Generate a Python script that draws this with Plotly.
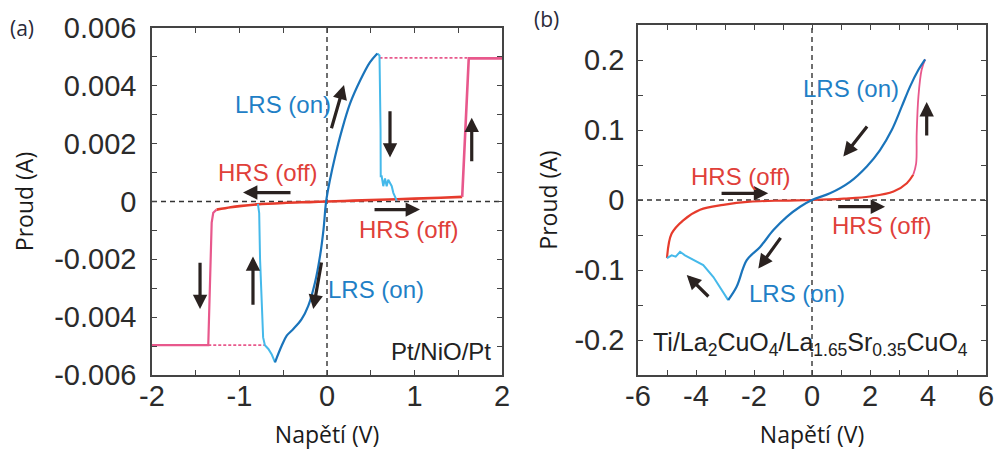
import plotly.graph_objects as go

# ---------------- Panel (a): Pt/NiO/Pt ----------------
A_LRS_V = [-0.594, -0.518, -0.46, -0.385, -0.29, -0.213, -0.137, -0.08, -0.04, -0.01,
           0.034, 0.092, 0.17, 0.264, 0.38, 0.49, 0.575]
A_LRS_I = [-0.00556, -0.00499, -0.00464, -0.00441, -0.00407, -0.0036, -0.0028, -0.00189, -0.00097, 0.0,
           0.00075, 0.00155, 0.00247, 0.00339, 0.00419, 0.00481, 0.00512]

A_SETP_V = [0.575, 0.6, 0.612, 0.614, 0.625, 0.643, 0.663, 0.682, 0.70, 0.74, 0.758, 0.797]
A_SETP_I = [0.00512, 0.00505, 0.0025, 0.00087, 0.00087, 0.00053, 0.0008, 0.00053, 0.00075, 0.00053, 0.0003, 0.00003]

A_SETN_V = [-0.79, -0.775, -0.765, -0.75, -0.73, -0.71, -0.67, -0.63, -0.594]
A_SETN_I = [-0.00008, -0.0004, -0.002, -0.0035, -0.0047, -0.00497, -0.0051, -0.0053, -0.00556]

A_HRS_V = [-1.262, -1.1, -1.0, -0.8, -0.5, -0.2, 0.0, 0.3, 0.6, 1.0, 1.3, 1.545]
A_HRS_I = [-0.00028, -0.0002, -0.00016, -0.0001, -0.00005, -0.00002, 0.0, 0.00003, 0.00006, 0.0001, 0.00013, 0.00016]

A_CCP_V = [1.545, 1.62, 2.0]
A_CCP_I = [0.00016, 0.00495, 0.00495]
A_CCN_V = [-2.0, -1.357, -1.318, -1.3, -1.262]
A_CCN_I = [-0.00497, -0.00497, -0.00073, -0.00039, -0.00028]

A_DOTP_V = [0.6, 1.6]
A_DOTP_I = [0.00497, 0.00497]
A_DOTN_V = [-1.357, -0.71]
A_DOTN_I = [-0.00497, -0.00497]

# ---------------- Panel (b): Ti/La2CuO4/La1.65Sr0.35CuO4 ----------------
B_LRS_V = [-2.89, -2.6, -2.25, -1.79, -1.33, -0.87, -0.41, 0.0, 0.62, 1.31, 1.89, 2.34, 2.75, 3.09, 3.38, 3.67, 3.9]
B_LRS_I = [-0.143, -0.124, -0.086, -0.067, -0.043, -0.024, -0.0096, 0.0, 0.0096, 0.026, 0.048, 0.071, 0.1, 0.133, 0.162, 0.186, 0.201]

B_RST_V = [-5.0, -4.84, -4.7, -4.55, -4.38, -4.09, -3.75, -3.4, -3.11, -2.89]
B_RST_I = [-0.083, -0.079, -0.081, -0.074, -0.079, -0.086, -0.093, -0.11, -0.129, -0.143]

B_HRS_V = [-5.0, -4.84, -4.44, -3.86, -3.06, -2.14, -1.0, 0.0, 1.1, 2.0, 2.81, 3.27, 3.49]
B_HRS_I = [-0.083, -0.048, -0.029, -0.014, -0.007, -0.0024, -0.0008, 0.0, 0.002, 0.005, 0.012, 0.024, 0.036]

B_SET_V = [3.49, 3.59, 3.61, 3.67, 3.78, 3.9]
B_SET_I = [0.036, 0.052, 0.095, 0.148, 0.186, 0.201]

# Tick labels
A_XTICKS = [-2, -1, 0, 1, 2]
A_YTICKS = [-0.006, -0.004, -0.002, 0, 0.002, 0.004, 0.006]
A_YTEXT = ["-0.006", "-0.004", "-0.002", "0", "0.002", "0.004", "0.006"]
B_XTICKS = [-6, -4, -2, 0, 2, 4, 6]
B_YTICKS = [-0.2, -0.1, 0, 0.1, 0.2]
B_YTEXT = ["-0.2", "-0.1", "0", "0.1", "0.2"]

# Direction arrows: (panel, tail V, tail I, head V, head I)
ARROWS = [
    ("a", 0.046, 0.00248, 0.194, 0.00403),
    ("a", 0.72, 0.00317, 0.72, 0.00152),
    ("a", 1.654, 0.00134, 1.654, 0.0029),
    ("a", -0.40, 0.00031, -0.96, 0.00031),
    ("a", 0.526, -0.00028, 1.063, -0.00028),
    ("a", -1.451, -0.00207, -1.451, -0.00372),
    ("a", -0.846, -0.00362, -0.846, -0.0019),
    ("a", -0.06, -0.00206, -0.157, -0.00372),
    ("b", 1.94, 0.107, 1.08, 0.062),
    ("b", 3.955, 0.09, 3.955, 0.14),
    ("b", -3.17, 0.0096, -1.51, 0.0096),
    ("b", 0.85, -0.0096, 2.52, -0.0096),
    ("b", -1.045, -0.052, -1.85, -0.098),
    ("b", -3.52, -0.140, -4.32, -0.107),
]

# Text labels: (panel, V, I, text, color key)
LABELS = [
    ("a", -0.503, 0.00334, "LRS (on)", "blue"),
    ("a", -0.676, 0.00100, "HRS (off)", "red"),
    ("a", 0.937, -0.00097, "HRS (off)", "red"),
    ("a", 0.56, -0.00303, "LRS (on)", "blue"),
    ("b", 1.345, 0.160, "LRS (on)", "blue"),
    ("b", -2.45, 0.033, "HRS (off)", "red"),
    ("b", 2.41, -0.036, "HRS (off)", "red"),
    ("b", -0.52, -0.133, "LRS (on)", "blue"),
]

DARK_BLUE = "#1a74bb"
LIGHT_BLUE = "#45b9ea"
RED = "#e63b2c"
PINK = "#e8588c"
ARROW = "#2a2220"
TXT = {"blue": "#1f80c6", "red": "#e0403a"}
AXC = "#444444"

fig = go.Figure()

def line(x, y, color, width, xa, ya, dash=None, shape="linear"):
    fig.add_trace(go.Scatter(x=x, y=y, mode="lines", xaxis=xa, yaxis=ya,
                             line=dict(color=color, width=width, dash=dash, shape=shape),
                             showlegend=False, hoverinfo="skip"))

# panel a
line(A_DOTP_V, A_DOTP_I, PINK, 1.8, "x", "y", dash="3px,2px")
line(A_DOTN_V, A_DOTN_I, PINK, 1.8, "x", "y", dash="3px,2px")
line(A_HRS_V, A_HRS_I, RED, 2.6, "x", "y", shape="spline")
line(A_CCP_V, A_CCP_I, PINK, 2.6, "x", "y")
line(A_CCN_V, A_CCN_I, PINK, 2.2, "x", "y")
line(A_SETP_V, A_SETP_I, LIGHT_BLUE, 2.0, "x", "y")
line(A_SETN_V, A_SETN_I, LIGHT_BLUE, 2.0, "x", "y")
line(A_LRS_V, A_LRS_I, DARK_BLUE, 2.2, "x", "y", shape="spline")
# panel b
line(B_HRS_V, B_HRS_I, RED, 2.2, "x2", "y2", shape="spline")
line(B_SET_V, B_SET_I, PINK, 1.8, "x2", "y2", shape="spline")
line(B_RST_V, B_RST_I, LIGHT_BLUE, 2.0, "x2", "y2")
line(B_LRS_V, B_LRS_I, DARK_BLUE, 2.2, "x2", "y2", shape="spline")

LBLFONT = "Liberation Sans, Arial"
ann = []
for p, tv, ti, hv, hi in ARROWS:
    xr, yr = ("x", "y") if p == "a" else ("x2", "y2")
    ann.append(dict(x=hv, y=hi, ax=tv, ay=ti, xref=xr, yref=yr, axref=xr, ayref=yr,
                    text="", showarrow=True, arrowhead=2, arrowsize=0.9, arrowwidth=3.2,
                    arrowcolor=ARROW, standoff=0, startstandoff=0))
for p, v, i, t, c in LABELS:
    xr, yr = ("x", "y") if p == "a" else ("x2", "y2")
    ann.append(dict(x=v, y=i, xref=xr, yref=yr, text=t, showarrow=False,
                    font=dict(family=LBLFONT, size=24, color=TXT[c]),
                    xanchor="center", yanchor="middle"))
ann.append(dict(x=1.897, y=-0.0052, xref="x", yref="y", text="Pt/NiO/Pt", showarrow=False,
                font=dict(family=LBLFONT, size=24, color="#222222"),
                xanchor="right", yanchor="middle"))
ann.append(dict(x=-5.55, y=-0.206, xref="x2", yref="y2",
                text="Ti/La<sub>2</sub>CuO<sub>4</sub>/La<sub>1.65</sub>Sr<sub>0.35</sub>CuO<sub>4</sub>",
                showarrow=False, font=dict(family=LBLFONT, size=25, color="#222222"),
                xanchor="left", yanchor="middle"))
ann.append(dict(x=8 / 997, y=1 - 28 / 450, xref="paper", yref="paper", text="(a)", showarrow=False,
                font=dict(family="Open Sans", size=21, color="#2a2a3a"), xanchor="left", yanchor="middle"))
ann.append(dict(x=532 / 997, y=1 - 19 / 450, xref="paper", yref="paper", text="(b)", showarrow=False,
                font=dict(family="Open Sans", size=21, color="#2a2a3a"), xanchor="left", yanchor="middle"))

shapes = []
for xr, yr in (("x", "y"), ("x2", "y2")):
    shapes.append(dict(type="line", xref=xr, yref=yr + " domain", x0=0, x1=0, y0=0, y1=1,
                       line=dict(color="#333333", width=1.4, dash="5px,4px"), layer="below"))
    shapes.append(dict(type="line", xref=xr + " domain", yref=yr, x0=0, x1=1, y0=0, y1=0,
                       line=dict(color="#333333", width=1.4, dash="5px,4px"), layer="below"))

tickfont = dict(family=LBLFONT, size=29, color="#2b2b2b")
titlefont = dict(family="Open Sans", size=23, color="#1a1a1a")

def axis(dom, rng, tickvals, ticktext, minor_dtick, title, standoff, anchor, lblstand):
    return dict(domain=dom, range=rng, tickmode="array", tickvals=tickvals, ticktext=ticktext,
                ticks="inside", ticklen=5, tickwidth=1.3, tickcolor=AXC,
                minor=dict(ticks="inside", ticklen=5, tickwidth=1.3, tickcolor=AXC, dtick=minor_dtick,
                           showgrid=False),
                showline=True, linecolor=AXC, linewidth=1.6, mirror="ticks",
                showgrid=False, zeroline=False, tickfont=tickfont, automargin=False,
                title=dict(text=title, font=titlefont, standoff=standoff),
                anchor=anchor, ticklabelstandoff=lblstand)

fig.update_layout(
    width=997, height=450, margin=dict(l=0, r=0, t=0, b=0),
    paper_bgcolor="white", plot_bgcolor="white",
    xaxis=axis([152 / 997, 502 / 997], [-2, 2], A_XTICKS, [str(v) for v in A_XTICKS], 0.5,
               "Napětí (V)", 24, "y", -6),
    yaxis=axis([1 - 375 / 450, 1 - 28 / 450], [-0.006, 0.006], A_YTICKS, A_YTEXT, 0.001,
               "Proud (A)", 14, "x", 8),
    xaxis2=axis([638 / 997, 986 / 997], [-6, 6], B_XTICKS, [str(v) for v in B_XTICKS], 1,
                "Napětí (V)", 24, "y2", -6),
    yaxis2=axis([1 - 375 / 450, 1 - 25 / 450], [-0.25, 0.25], B_YTICKS, B_YTEXT, 0.05,
                "Proud (A)", 10, "x2", 6),
    annotations=ann, shapes=shapes,
)

fig.write_html("out.html")
